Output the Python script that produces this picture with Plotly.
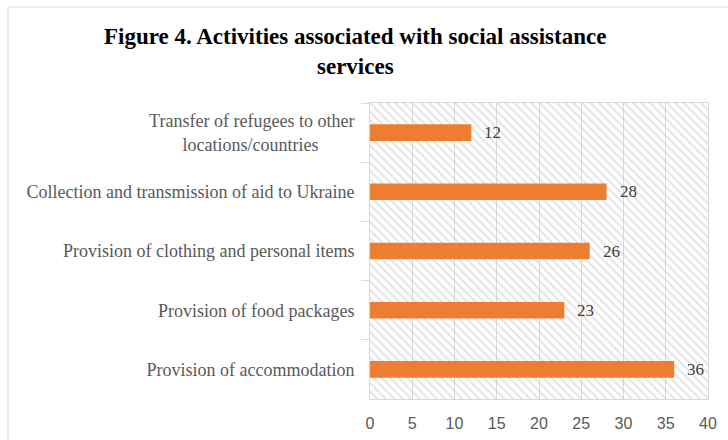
import plotly.graph_objects as go

# Activities, listed top to bottom, with the number of mentions
NB = "&nbsp;"
categories = [
    "Transfer of refugees to other<br>locations/countries" + NB * 8,
    "Collection and transmission of aid to Ukraine",
    "Provision of clothing and personal items",
    "Provision of food packages",
    "Provision of accommodation",
]
values = [12, 28, 26, 23, 36]
x_ticks = [0, 5, 10, 15, 20, 25, 30, 35, 40]

title_lines = ["Figure 4. Activities associated with social assistance", "services"]

W, H = 728, 440
L, R, T, B = 370, 20, 103, 41
plot_w, plot_h = W - L - R, H - T - B

def px_x(px):
    return (px - L) / plot_w

def px_y(py):
    return (H - B - py) / plot_h

BAR = "#ED7D31"
GRID = "#d9d9d9"
SERIF = "Liberation Serif, Times New Roman, serif"
SANS = "Liberation Sans, Arial, sans-serif"

fig = go.Figure()

# hatched plot-area background on a hidden unit axis pair
fig.add_trace(go.Scatter(
    x=[0, 1, 1, 0, 0], y=[0, 0, 1, 1, 0],
    xaxis="x", yaxis="y",
    mode="lines", fill="toself",
    fillcolor="rgba(0,0,0,0)",
    fillpattern=dict(shape="\\", fgcolor="#c4c4c4", size=6, solidity=0.3),
    line=dict(width=0),
    hoverinfo="skip", showlegend=False,
))

# data bars drawn on the overlaying axes so they sit above the hatch
fig.add_trace(go.Bar(
    x=values, y=categories, orientation="h",
    xaxis="x2", yaxis="y2",
    marker=dict(color=BAR, line=dict(width=0)),
    showlegend=False,
))

annotations = []
for c, v in zip(categories, values):
    annotations.append(dict(
        x=v, y=c, xref="x2", yref="y2", text=str(v),
        xanchor="left", yanchor="middle", xshift=11, showarrow=False,
        font=dict(family=SERIF, size=17, color="#404040"),
    ))

for line, py in zip(title_lines, [36, 67]):
    annotations.append(dict(
        x=px_x(355), y=px_y(py), xref="paper", yref="paper",
        text="<b>" + line + "</b>", showarrow=False,
        xanchor="center", yanchor="middle",
        font=dict(family=SERIF, size=23, color="#000000"),
    ))

fig.update_layout(
    width=W, height=H,
    margin=dict(l=L, r=R, t=T, b=B, pad=0, autoexpand=False),
    paper_bgcolor="white", plot_bgcolor="white",
    bargap=0.72,
    xaxis=dict(range=[0, 1], visible=False, fixedrange=True, automargin=False),
    yaxis=dict(range=[0, 1], visible=False, fixedrange=True, automargin=False),
    xaxis2=dict(
        overlaying="x", anchor="y2", side="bottom",
        range=[0, 40], tickvals=x_ticks,
        showgrid=True, gridcolor=GRID, gridwidth=1,
        showline=True, linecolor=GRID, linewidth=1, mirror=True,
        ticks="", zeroline=False, automargin=False,
        tickfont=dict(family=SANS, size=16, color="#595959"),
        ticklabelstandoff=10,
    ),
    yaxis2=dict(
        overlaying="y", anchor="x2", side="left",
        type="category", autorange="reversed",
        showgrid=False, automargin=False,
        showline=True, linecolor=GRID, linewidth=1, mirror=True,
        ticks="outside", ticklen=8, tickcolor=GRID, tickson="boundaries",
        tickfont=dict(family=SERIF, size=18, color="#595959"),
        ticklabelstandoff=11,
    ),
    annotations=annotations,
    shapes=[dict(
        type="rect", xref="paper", yref="paper",
        x0=px_x(8), x1=px_x(760), y0=px_y(480), y1=px_y(7),
        line=dict(color=GRID, width=1), fillcolor="rgba(0,0,0,0)",
        layer="below",
    )],
)

fig.write_html("out.html")
